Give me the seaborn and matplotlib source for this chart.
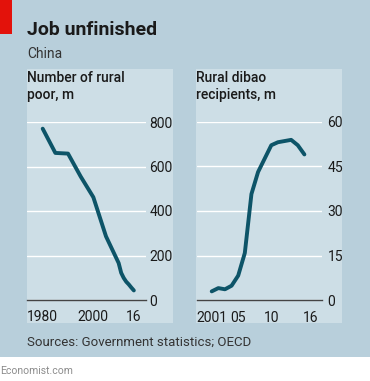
import matplotlib
matplotlib.use("Agg")
import matplotlib.pyplot as plt
from matplotlib.patches import Rectangle
import seaborn as sns
import pandas as pd

# ----------------------------
# Data
# ----------------------------

poor_years = [1980, 1985, 1990, 1995, 2000, 2005, 2010, 2011, 2012, 2013, 2014, 2015, 2016]
poor_values = [770, 661, 658, 555, 462, 286, 166, 122, 99, 82, 70, 56, 43]

dibao_years = list(range(2001, 2016))
dibao_values = [3.0, 4.1, 3.7, 4.9, 8.3, 15.9, 35.7, 43.1, 47.6, 52.1, 53.1, 53.5, 53.9, 52.1, 49.0]

title = "Job unfinished"
subtitle = "China"
left_title = "Number of rural\npoor, m"
right_title = "Rural dibao\nrecipients, m"
source = "Sources: Government statistics; OECD"
credit = "Economist.com"

left_yticks = [0, 200, 400, 600, 800]
right_yticks = [0, 15, 30, 45, 60]
left_xticks = [1980, 2000, 2016]
left_xlabels = ["1980", "2000", "16"]
right_xticks = [2001, 2005, 2010, 2016]
right_xlabels = ["2001", "05", "10", "16"]

# ----------------------------
# Style
# ----------------------------

W, H = 370, 381
BG = "#b8cfdb"
PANEL = "#cddee6"
LINE = "#0d5468"
TEXT = "#1a1a1a"

sns.set_style("white")
plt.rcParams["font.family"] = ["Roboto", "DejaVu Sans"]

fig = plt.figure(figsize=(W / 100, H / 100), dpi=100)
fig.patch.set_facecolor("white")


def box(x0, y0, x1, y1):
    return [x0 / W, 1 - y1 / H, (x1 - x0) / W, (y1 - y0) / H]


def rect(x0, y0, x1, y1, color):
    fig.patches.append(Rectangle((x0 / W, 1 - y1 / H), (x1 - x0) / W, (y1 - y0) / H,
                                 transform=fig.transFigure, facecolor=color,
                                 edgecolor="none", zorder=-5))


def text(x, y, s, **kw):
    fig.text(x / W, 1 - y / H, s, va="baseline", ha="left", **kw)


rect(0, 0, W, 357, BG)
rect(27, 69, 173, 323, PANEL)
rect(196, 69, 342, 323, PANEL)
rect(0, 0, 12, 34, "#e3120b")

text(27, 35, title, fontsize=14, fontweight="bold", color=TEXT)
text(27, 58, subtitle, fontsize=10, color="#333333")
fig.text(27 / W, 1 - 71 / H, left_title, va="top", ha="left", fontsize=10,
         fontweight="medium", color=TEXT, linespacing=1.25)
fig.text(196 / W, 1 - 71 / H, right_title, va="top", ha="left", fontsize=10,
         fontweight="medium", color=TEXT, linespacing=1.25)
text(27, 346, source, fontsize=9.5, color="#333333")
text(0, 374, credit, fontsize=7.5, color="#8c8c8c")


def style_axis(ax, yticks, xticks, xlabels, minor, ypad):
    ax.set_facecolor("none")
    for s in ["left", "right", "top"]:
        ax.spines[s].set_visible(False)
    ax.spines["bottom"].set_color("#444444")
    ax.spines["bottom"].set_linewidth(1.0)
    ax.set_yticks(yticks)
    ax.yaxis.tick_right()
    ax.tick_params(axis="y", length=0, pad=ypad, labelsize=10, labelcolor=TEXT)
    for lab in ax.get_yticklabels():
        lab.set_horizontalalignment("left")
    ax.grid(axis="y", color="white", linewidth=1.0)
    ax.grid(axis="x", visible=False)
    ax.set_xticks(xticks)
    ax.set_xticklabels(xlabels)
    ax.set_xticks(minor, minor=True)
    ax.tick_params(axis="x", which="both", direction="out", length=4, width=0.8,
                   color="#444444", pad=3.5, labelsize=10, labelcolor=TEXT)
    ax.set_xlabel("")
    ax.set_ylabel("")
    ax.set_axisbelow(True)


# ----------------------------
# Left: rural poor
# ----------------------------

ax1 = fig.add_axes(box(27, 122, 146, 300))
df1 = pd.DataFrame({"year": poor_years, "value": poor_values})
sns.lineplot(data=df1, x="year", y="value", ax=ax1, color=LINE, linewidth=2.8)
ax1.lines[0].set_solid_joinstyle("round")
ax1.set_xlim(1973.8, 2020.8)
ax1.set_ylim(0, 800)
style_axis(ax1, left_yticks, left_xticks, left_xlabels, list(range(1980, 2017)), 2.5)

# ----------------------------
# Right: dibao recipients
# ----------------------------

ax2 = fig.add_axes(box(196.7, 121.7, 322, 300.3))
df2 = pd.DataFrame({"year": dibao_years, "value": dibao_values})
sns.lineplot(data=df2, x="year", y="value", ax=ax2, color=LINE, linewidth=2.8)
ax2.lines[0].set_solid_joinstyle("round")
ax2.set_xlim(1998.73, 2017.66)
ax2.set_ylim(0, 60)
style_axis(ax2, right_yticks, right_xticks, right_xlabels, list(range(2001, 2017)), 4)

fig.savefig("out.png", dpi=100, facecolor=fig.get_facecolor())
